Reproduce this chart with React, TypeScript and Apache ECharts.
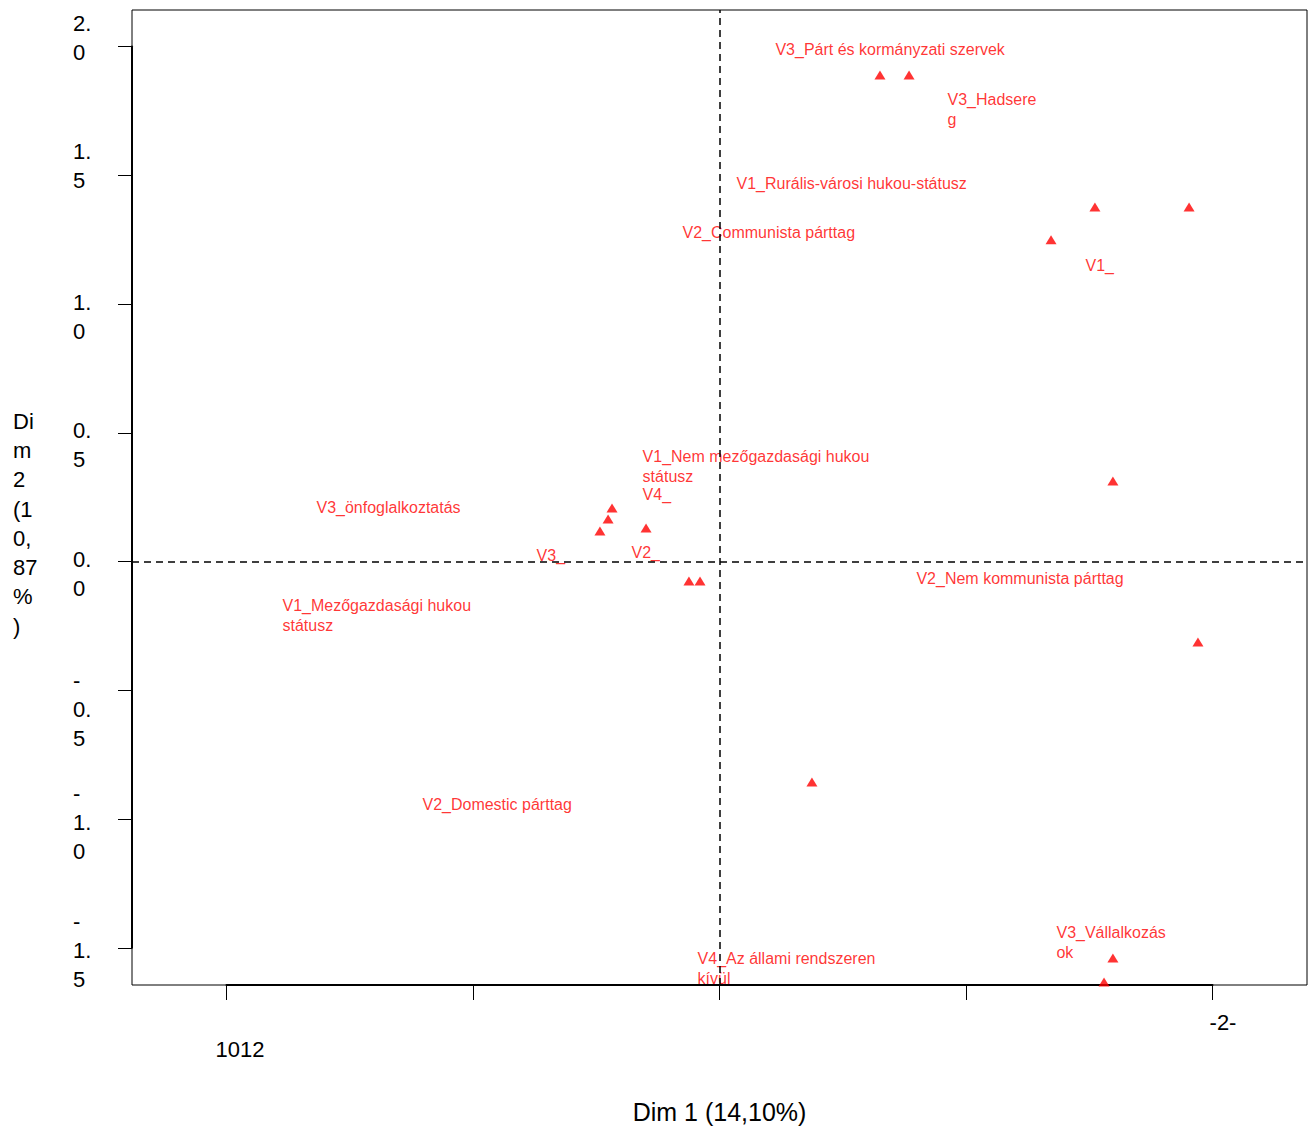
import React, { useEffect, useRef } from "react";
import * as echarts from "echarts";

// ---- data (Dim 1, Dim 2 coordinates) ----
const pointX = [0.651, 0.769, 1.523, 1.905, 1.345, 1.596, -0.436, -0.452, -0.485, -0.298, -0.124, -0.079, 1.941, 0.375, 1.596, 1.56];
const pointY = [1.889, 1.889, 1.377, 1.377, 1.249, 0.313, 0.208, 0.165, 0.118, 0.13, -0.076, -0.076, -0.313, -0.856, -1.54, -1.633];

const labelTexts = [
  "V3_Párt és kormányzati szervek",
  "V3_Hadsere\ng",
  "V1_Rurális-városi hukou-státusz",
  "V2_Communista párttag",
  "V1_",
  "V1_Nem mezőgazdasági hukou\nstátusz",
  "V4_",
  "V3_önfoglalkoztatás",
  "V3_",
  "V2_",
  "V2_Nem kommunista párttag",
  "V1_Mezőgazdasági hukou\nstátusz",
  "V2_Domestic párttag",
  "V4_Az állami rendszeren\nkívül",
  "V3_Vállalkozás\nok",
];
const labelX = [0.229, 0.927, 0.071, -0.148, 1.487, -0.31, -0.31, -1.633, -0.74, -0.355, 0.801, -1.771, -1.203, -0.087, 1.369];
const labelY = [2.023, 1.829, 1.503, 1.313, 1.184, 0.443, 0.295, 0.245, 0.058, 0.07, -0.031, -0.136, -0.909, -1.507, -1.406];

const yTickValues = [-1.5, -1.0, -0.5, 0, 0.5, 1.0, 1.5, 2.0];
const yTickTexts = [
  "{s| }\n{a|-}\n{a|1.}\n{a|5}",
  "{s| }\n{a|-}\n{a|1.}\n{a|0}",
  "{m| }\n{a|-}\n{a|0.}\n{a|5}",
  "{l| }\n{a|0.}\n{a|0}",
  "{l| }\n{a|0.}\n{a|5}",
  "{l| }\n{a|1.}\n{a|0}",
  "{a|1.}\n{a|5}\n{t| }",
  "{a|2.}\n{a|0}\n{t| }",
];

const xTickValues = [-2, -1, 0, 1, 2];
const xTickTexts = ["{a|1012}", "", "", "", "{b|-2-}"];

const xTitle = "Dim 1 (14,10%)";
const yTitle = "Di\nm\n2\n(1\n0,\n87\n%\n)";

const FONT = "'Liberation Sans', Arial, Helvetica, sans-serif";

export default function App() {
  const ref = useRef<HTMLDivElement>(null);

  useEffect(() => {
    document.body.style.margin = "0";
    document.body.style.overflow = "hidden";
    if (!ref.current) return;
    const chart = echarts.init(ref.current, null, { renderer: "svg" });

    const findText = (vals: number[], texts: string[], v: number) => {
      for (let i = 0; i < vals.length; i++) if (Math.abs(vals[i] - v) < 1e-6) return texts[i];
      return "";
    };

    const tickStyle = { fontSize: 22, lineHeight: 29, color: "#000", fontFamily: FONT };

    const option: any = {
      animation: false,
      backgroundColor: "#ffffff",
      textStyle: { fontFamily: FONT },
      grid: [
        { left: 132, top: 10, width: 1175, height: 975, show: true, borderColor: "#000", borderWidth: 1, backgroundColor: "transparent" },
        { left: 226.5, top: 46.5, width: 986, height: 901.25, show: false },
      ],
      xAxis: [
        { gridIndex: 0, type: "value", min: -2.3834, max: 2.3834, show: false },
        {
          gridIndex: 1,
          type: "value",
          min: -2,
          max: 2,
          interval: 1,
          position: "bottom",
          offset: 37.25,
          splitLine: { show: false },
          axisLine: { show: true, onZero: false, lineStyle: { color: "#000", width: 2 } },
          axisTick: { show: true, length: 15, lineStyle: { color: "#000", width: 1 } },
          axisLabel: {
            show: true,
            showMinLabel: true,
            showMaxLabel: true,
            margin: 26,
            color: "#000",
            fontFamily: FONT,
            fontSize: 22,
            lineHeight: 22,
            formatter: (v: number) => findText(xTickValues, xTickTexts, v),
            rich: {
              a: { fontSize: 22, lineHeight: 22, color: "#000", fontFamily: FONT, padding: [54, 0, 0, 27] },
              b: { fontSize: 22, lineHeight: 22, color: "#000", fontFamily: FONT, padding: [0, 0, 0, 21] },
            },
          },
        },
      ],
      yAxis: [
        { gridIndex: 0, type: "value", min: -1.6447, max: 2.1417, show: false },
        {
          gridIndex: 1,
          type: "value",
          min: -1.5,
          max: 2.0,
          interval: 0.5,
          position: "left",
          offset: 94.5,
          splitLine: { show: false },
          axisLine: { show: true, onZero: false, lineStyle: { color: "#000", width: 2 } },
          axisTick: { show: true, length: 14, lineStyle: { color: "#000", width: 1 } },
          axisLabel: {
            show: true,
            showMinLabel: true,
            showMaxLabel: true,
            margin: 59,
            align: "left",
            color: "#000",
            fontFamily: FONT,
            fontSize: 22,
            lineHeight: 29,
            formatter: (v: number) => findText(yTickValues, yTickTexts, v),
            rich: {
              a: tickStyle,
              t: { fontSize: 10, lineHeight: 18, color: "#000", fontFamily: FONT },
              l: { fontSize: 10, lineHeight: 25, color: "#000", fontFamily: FONT },
              m: { fontSize: 10, lineHeight: 38, color: "#000", fontFamily: FONT },
              s: { fontSize: 4, lineHeight: 6, color: "#000", fontFamily: FONT },
            },
          },
        },
      ],
      graphic: [
        {
          type: "text",
          left: 13,
          top: 406.5,
          style: { text: yTitle, fill: "#000", font: `22px ${FONT}`, lineHeight: 29.3, textAlign: "left", textVerticalAlign: "top" },
        },
        {
          type: "text",
          x: 719.5,
          y: 1112,
          style: { text: xTitle, fill: "#000", font: `25px ${FONT}`, textAlign: "center", textVerticalAlign: "middle" },
        },
      ],
      series: [
        {
          type: "scatter",
          xAxisIndex: 0,
          yAxisIndex: 0,
          symbol: "triangle",
          symbolSize: [11, 9],
          itemStyle: { color: "#ff0000" },
          silent: true,
          data: pointX.map((x, i) => [x, pointY[i]]),
          markLine: {
            silent: true,
            symbol: "none",
            label: { show: false },
            lineStyle: { color: "#000", type: [7, 5], width: 1.5 },
            data: [{ xAxis: 0 }, { yAxis: 0 }],
          },
          z: 2,
        },
        {
          type: "scatter",
          xAxisIndex: 0,
          yAxisIndex: 0,
          symbol: "circle",
          symbolSize: 1,
          itemStyle: { color: "rgba(0,0,0,0)" },
          silent: true,
          data: labelX.map((x, i) => ({ value: [x, labelY[i]], name: labelTexts[i] })),
          label: {
            show: true,
            position: [0, 0],
            align: "left",
            verticalAlign: "top",
            formatter: (p: any) => p.name,
            color: "#ff0000",
            fontFamily: FONT,
            fontSize: 16,
            lineHeight: 19.5,
          },
          z: 3,
        },
      ],
    };

    chart.setOption(option);
    return () => chart.dispose();
  }, []);

  return <div ref={ref} style={{ width: 1314, height: 1129 }} />;
}
